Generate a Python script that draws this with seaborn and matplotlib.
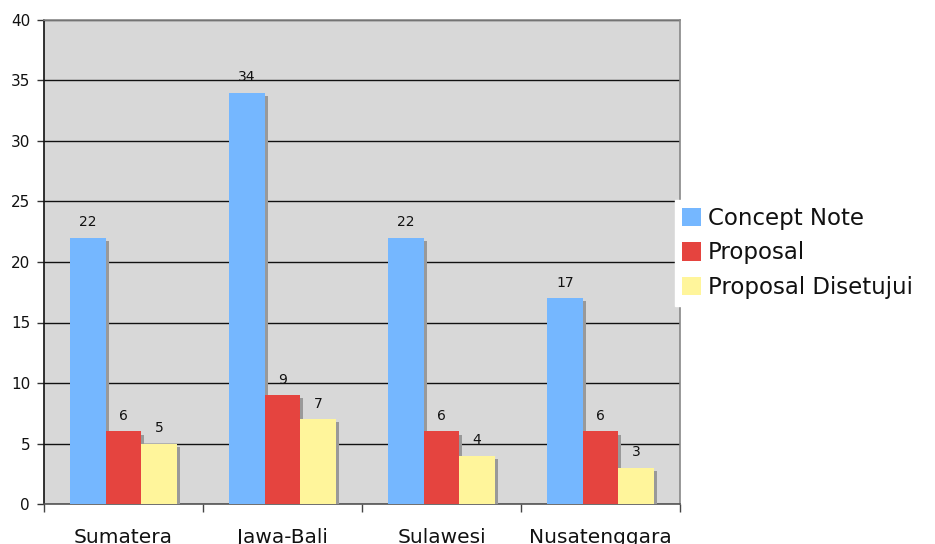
import pandas as pd
import matplotlib
matplotlib.use('Agg')
import matplotlib.pyplot as plt
import matplotlib.patheffects as pe
import seaborn as sns

# Chart data
regions = ['Sumatera', 'Jawa-Bali', 'Sulawesi', 'Nusatenggara']
concept_note = [22, 34, 22, 17]
proposal = [6, 9, 6, 6]
proposal_disetujui = [5, 7, 4, 3]
series_names = ['Concept Note', 'Proposal', 'Proposal Disetujui']
colors = ['#75B7FF', '#E5443F', '#FFF59B']

df = pd.DataFrame({
    'Region': regions * 3,
    'Series': [s for s in series_names for _ in regions],
    'Value': concept_note + proposal + proposal_disetujui,
})

sns.set_style('white')
plt.rcParams['font.family'] = ['DejaVu Sans']
plt.rcParams['text.color'] = '#111111'
plt.rcParams['xtick.color'] = '#111111'
plt.rcParams['ytick.color'] = '#111111'

fig = plt.figure(figsize=(9.35, 5.44), dpi=100)
ax = fig.add_axes([44 / 935, 40 / 544, 636 / 935, 484 / 544])
ax.set_facecolor('#D8D8D8')

sns.barplot(data=df, x='Region', y='Value', hue='Series', order=regions,
            hue_order=series_names, palette=colors, width=0.67,
            saturation=1, ax=ax, zorder=3, legend=False)

# drop shadow on every bar
for bar in ax.patches:
    bar.set_edgecolor('none')
    bar.set_linewidth(0)
    bar.set_path_effects([pe.SimplePatchShadow(offset=(2.3, -2.3), shadow_rgbFace='#999999', alpha=1.0),
                          pe.Normal()])

for cont in ax.containers:
    ax.bar_label(cont, padding=6, fontsize=10, color='#111111')

ax.set_ylim(0, 40)
ax.set_yticks(range(0, 41, 5))
ax.set_xlim(-0.5, 3.5)
ax.yaxis.grid(True, color='#111111', linewidth=1.0, zorder=0)
ax.set_axisbelow(True)
ax.set_xlabel('')
ax.set_ylabel('')

ax.tick_params(axis='y', length=5, width=1, color='#333333', pad=5, labelsize=11, direction='out', left=True)
ax.tick_params(axis='x', which='major', length=0, pad=17, labelsize=14.5)
ax.set_xticks([-0.5, 0.5, 1.5, 2.5, 3.5], minor=True)
ax.tick_params(axis='x', which='minor', length=6, width=1, color='#444444', direction='out', bottom=True)

for side, col in [('left', '#111111'), ('bottom', '#555555'), ('top', '#888888'), ('right', '#888888')]:
    ax.spines[side].set_visible(True)
    ax.spines[side].set_color(col)
    ax.spines[side].set_linewidth(1.2)

handles = [plt.Rectangle((0, 0), 1, 1, facecolor=c, edgecolor='none') for c in colors]
leg = ax.legend(handles, series_names, loc='upper left', bbox_to_anchor=(675 / 935, 1 - 200 / 544),
                bbox_transform=fig.transFigure, frameon=True, fancybox=False, fontsize=16.5,
                handlelength=0.85, handleheight=0.85, handletextpad=0.3, labelspacing=0.5,
                borderpad=0.3, borderaxespad=0, labelcolor='#111111')
leg.get_frame().set_facecolor('white')
leg.get_frame().set_edgecolor('white')
leg.get_frame().set_alpha(1)

fig.savefig('out.png', dpi=100)
